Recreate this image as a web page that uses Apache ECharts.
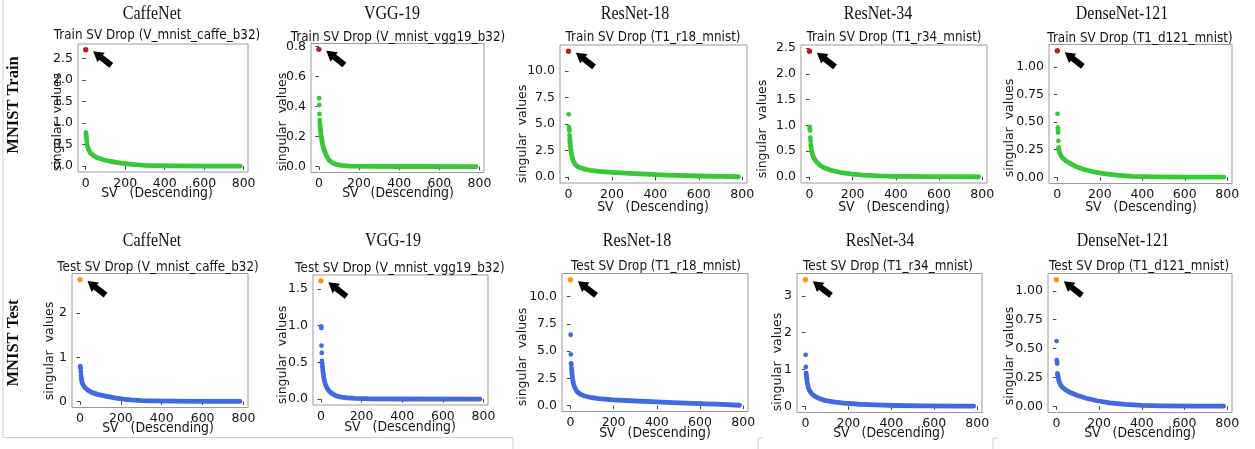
<!DOCTYPE html>
<html>
<head>
<meta charset="utf-8">
<script src="https://cdn.jsdelivr.net/npm/echarts@6/dist/echarts.min.js"></script>
<style>
  html, body { margin: 0; padding: 0; background: #ffffff; }
  #chart { width: 1255px; height: 449px; }
</style>
</head>
<body>
<div id="chart"></div>
<script>
// Singular-value spectra of the learned feature matrices on MNIST (train / test),
// one small panel per network. Index 0 (largest SV) is highlighted and pointed at.

const modelNames = ['CaffeNet', 'VGG-19', 'ResNet-18', 'ResNet-34', 'DenseNet-121'];
const runTags = ['V_mnist_caffe_b32', 'V_mnist_vgg19_b32', 'T1_r18_mnist', 'T1_r34_mnist', 'T1_d121_mnist'];
const rowLabels = ['MNIST Train', 'MNIST Test'];
const xTicks = [0, 200, 400, 600, 800];
const svLastIndex = 783;

// largest singular value of each run
const trainTop = [2.70, 0.78, 11.85, 2.44, 1.145];
const testTop = [2.76, 1.61, 11.55, 3.44, 1.095];

// y tick values of each panel
const yTicksTrain = [
  [0, 0.5, 1, 1.5, 2, 2.5],
  [0, 0.2, 0.4, 0.6, 0.8],
  [0, 2.5, 5, 7.5, 10],
  [0, 0.5, 1, 1.5, 2, 2.5],
  [0, 0.25, 0.5, 0.75, 1]
];
const yTicksTest = [
  [0, 1, 2],
  [0, 0.5, 1, 1.5],
  [0, 2.5, 5, 7.5, 10],
  [0, 1, 2, 3],
  [0, 0.25, 0.5, 0.75, 1]
];

// leading singular values (index, value) that still stand apart
const trainHeadCaffe = [[1, 0.78], [2, 0.74], [3, 0.70], [4, 0.65], [5, 0.59], [6, 0.54]];
const trainHeadVgg = [[1, 0.455], [2, 0.41], [3, 0.35], [4, 0.31], [5, 0.29]];
const trainHeadR18 = [[1, 5.9], [2, 4.7], [3, 4.55], [4, 4.35], [5, 3.9]];
const trainHeadR34 = [[1, 0.97], [2, 0.93], [3, 0.90], [4, 0.76], [5, 0.70]];
const trainHeadD121 = [[1, 0.575], [2, 0.45], [3, 0.43], [4, 0.405], [5, 0.33], [6, 0.27]];

const testHeadCaffe = [[1, 0.80], [2, 0.77], [3, 0.75], [4, 0.67], [5, 0.60]];
const testHeadVgg = [[1, 0.99], [2, 0.97], [3, 0.73], [4, 0.63], [5, 0.52], [6, 0.49]];
const testHeadR18 = [[1, 6.5], [2, 4.7], [3, 3.88], [4, 3.73], [5, 3.42]];
const testHeadR34 = [[1, 1.40], [2, 1.07], [3, 0.91], [4, 0.87], [5, 0.82]];
const testHeadD121 = [[1, 0.565], [2, 0.40], [3, 0.385], [4, 0.37], [5, 0.285]];

// the dense remainder of the spectrum, sampled along the index
const trainTailCaffe = [[7, 0.50], [10, 0.44], [15, 0.38], [25, 0.30], [40, 0.245], [60, 0.195], [90, 0.15], [125, 0.115], [170, 0.08], [210, 0.055], [250, 0.036], [300, 0.022], [360, 0.012], [450, 0.006], [600, 0.003], [783, 0.001]];
const trainTailVgg = [[6, 0.28], [8, 0.25], [10, 0.22], [14, 0.18], [20, 0.14], [28, 0.105], [38, 0.072], [50, 0.045], [65, 0.027], [85, 0.015], [110, 0.008], [150, 0.004], [250, 0.002], [400, 0.001], [783, 0.0]];
const trainTailR18 = [[6, 3.6], [8, 3.1], [10, 2.7], [15, 2.0], [22, 1.5], [30, 1.2], [40, 1.0], [55, 0.85], [75, 0.72], [100, 0.62], [140, 0.52], [200, 0.42], [260, 0.35], [330, 0.27], [420, 0.19], [500, 0.13], [600, 0.08], [700, 0.04], [783, 0.01]];
const trainTailR34 = [[6, 0.63], [8, 0.56], [10, 0.50], [15, 0.42], [22, 0.35], [35, 0.28], [50, 0.22], [70, 0.17], [100, 0.125], [140, 0.088], [190, 0.057], [250, 0.032], [320, 0.016], [400, 0.007], [550, 0.003], [783, 0.001]];
const trainTailD121 = [[7, 0.255], [10, 0.23], [16, 0.2], [25, 0.175], [40, 0.15], [60, 0.125], [90, 0.095], [130, 0.068], [170, 0.05], [220, 0.033], [280, 0.02], [350, 0.009], [450, 0.004], [600, 0.002], [783, 0.001]];

const testTailCaffe = [[6, 0.55], [8, 0.48], [11, 0.42], [16, 0.37], [25, 0.31], [40, 0.25], [60, 0.2], [90, 0.155], [125, 0.12], [170, 0.08], [210, 0.055], [250, 0.035], [300, 0.02], [360, 0.011], [450, 0.006], [600, 0.003], [783, 0.001]];
const testTailVgg = [[7, 0.45], [9, 0.40], [12, 0.33], [16, 0.26], [22, 0.2], [30, 0.15], [40, 0.11], [55, 0.075], [75, 0.045], [100, 0.028], [130, 0.017], [170, 0.01], [250, 0.005], [400, 0.002], [783, 0.001]];
const testTailR18 = [[6, 3.25], [8, 2.8], [10, 2.45], [14, 2.0], [20, 1.65], [30, 1.3], [45, 1.05], [65, 0.88], [90, 0.76], [130, 0.63], [200, 0.52], [300, 0.42], [400, 0.33], [500, 0.25], [600, 0.18], [700, 0.1], [783, 0.03]];
const testTailR34 = [[6, 0.78], [8, 0.68], [10, 0.6], [14, 0.5], [20, 0.42], [30, 0.34], [45, 0.27], [65, 0.21], [90, 0.16], [130, 0.12], [180, 0.085], [250, 0.055], [330, 0.035], [420, 0.02], [550, 0.01], [700, 0.005], [783, 0.002]];
const testTailD121 = [[6, 0.275], [8, 0.26], [12, 0.22], [18, 0.19], [28, 0.165], [45, 0.14], [70, 0.115], [100, 0.093], [140, 0.07], [190, 0.048], [250, 0.03], [320, 0.016], [400, 0.008], [500, 0.004], [650, 0.002], [783, 0.001]];

const trainHeads = [trainHeadCaffe, trainHeadVgg, trainHeadR18, trainHeadR34, trainHeadD121];
const testHeads = [testHeadCaffe, testHeadVgg, testHeadR18, testHeadR34, testHeadD121];
const trainTails = [trainTailCaffe, trainTailVgg, trainTailR18, trainTailR34, trainTailD121];
const testTails = [testTailCaffe, testTailVgg, testTailR18, testTailR34, testTailD121];

// ---- layout (pixels) ----
const gridBoxes = [
  [78, 44, 170, 128], [311, 43.5, 173, 129], [560, 45, 187, 138], [801, 45, 186, 138], [1049, 44.5, 183, 139],
  [72, 273.5, 176, 134], [313, 275, 175, 130], [562, 273.5, 186, 138], [797, 273.5, 185, 139], [1048, 273.5, 184, 139]
];
const modelNamePos = [[152, 14], [392, 14], [635, 14], [878, 14], [1122, 14], [152, 241], [393, 241], [637, 241], [880, 241], [1123, 241]];
const titlePos = [[157, 35], [398, 37], [653, 37], [894, 37], [1140, 38], [158, 267], [400, 268], [656, 266], [888, 266], [1139, 266]];
const xNamePos = [[157, 193.5], [398, 193.5], [653, 207], [894, 207], [1141, 207], [158, 428.5], [400, 427.5], [655, 433.5], [889, 433.5], [1140, 433.5]];
const yNamePos = [[58, 122], [283, 122], [523, 134], [763, 129], [1010, 128], [50, 351], [283, 355], [523, 357], [778, 362], [1010, 356]];
const rowLabelPos = [[14, 105], [14, 343]];

const SANS = '"DejaVu Sans", "Liberation Sans", sans-serif';
const SERIF = '"Liberation Serif", "DejaVu Serif", serif';
const TXT = '#141414';
const TEXT_STRETCH = 1.13;   // glyphs in this figure are slightly taller than wide

const COLORS = {
  train: { body: '#36c836', top: '#b3202a' },
  test: { body: '#4169e1', top: '#ff9419' }
};

// fat black arrow, drawn pointing left and turned up-left
const ARROW_PATH = 'path://M0,6 L10,0 L10,3 L23,3 L23,9 L10,9 L10,12 Z';

function decimalsOf(ticks) {
  let d = 0;
  ticks.forEach(function (t) {
    const s = String(t);
    const p = s.indexOf('.');
    if (p >= 0) d = Math.max(d, s.length - p - 1);
  });
  return d;
}

const grids = [], xAxes = [], yAxes = [], series = [], graphics = [];

const panels = [];
for (let r = 0; r < 2; r++) {
  for (let c = 0; c < 5; c++) {
    panels.push({
      kind: r === 0 ? 'train' : 'test',
      title: (r === 0 ? 'Train' : 'Test') + ' SV Drop (' + runTags[c] + ')',
      model: modelNames[c],
      top: r === 0 ? trainTop[c] : testTop[c],
      head: r === 0 ? trainHeads[c] : testHeads[c],
      tail: r === 0 ? trainTails[c] : testTails[c],
      yTicks: r === 0 ? yTicksTrain[c] : yTicksTest[c]
    });
  }
}

panels.forEach(function (p, i) {
  const b = gridBoxes[i];
  grids.push({
    left: b[0], top: b[1], width: b[2], height: b[3],
    containLabel: false, outerBoundsMode: 'none',
    show: true, backgroundColor: '#ffffff', borderColor: '#9a9a9a', borderWidth: 1
  });

  const xPad = 0.05 * svLastIndex;
  xAxes.push({
    type: 'value', gridIndex: i,
    min: -xPad, max: svLastIndex + xPad,
    axisLine: { show: false },
    splitLine: { show: false },
    axisTick: { show: true, inside: false, length: 3.5, customValues: xTicks, lineStyle: { color: '#444', width: 1 } },
    axisLabel: { show: true, customValues: xTicks, margin: 5, fontSize: 12.5, fontFamily: SANS, color: TXT, formatter: function (v) { return String(v); } }
  });

  let lo = Infinity;
  p.tail.concat(p.head).forEach(function (d) { lo = Math.min(lo, d[1]); });
  const hi = p.top;
  const yPad = 0.05 * (hi - lo);
  const dec = decimalsOf(p.yTicks);
  yAxes.push({
    type: 'value', gridIndex: i,
    min: lo - yPad, max: hi + yPad,
    axisLine: { show: false },
    splitLine: { show: false },
    axisTick: { show: true, inside: false, length: 3.5, customValues: p.yTicks, lineStyle: { color: '#444', width: 1 } },
    axisLabel: { show: true, customValues: p.yTicks, margin: 5, fontSize: 12.5, fontFamily: SANS, color: TXT, formatter: function (v) { return Number(v).toFixed(dec); } }
  });

  const col = COLORS[p.kind];

  series.push({
    type: 'line', xAxisIndex: i, yAxisIndex: i,
    data: p.tail, showSymbol: false, silent: true, animation: false,
    lineStyle: { color: col.body, width: 4.8, cap: 'round', join: 'round' },
    z: 2
  });
  series.push({
    type: 'scatter', xAxisIndex: i, yAxisIndex: i,
    data: p.head, symbolSize: 4.8, silent: true, animation: false,
    itemStyle: { color: col.body, opacity: 1 },
    z: 3
  });
  series.push({
    type: 'scatter', xAxisIndex: i, yAxisIndex: i,
    data: [[0, p.top]], symbolSize: 5.4, silent: true, animation: false,
    itemStyle: { color: col.top, opacity: 1 },
    z: 4,
    markPoint: {
      silent: true, animation: false,
      symbol: ARROW_PATH,
      symbolSize: [23, 12],
      symbolRotate: -38,
      symbolOffset: [16.5, 8.5],
      itemStyle: { color: '#000000' },
      label: { show: false },
      data: [{ coord: [0, p.top] }]
    }
  });

  graphics.push({
    type: 'text', x: modelNamePos[i][0], y: modelNamePos[i][1], scaleY: TEXT_STRETCH, silent: true,
    style: { text: p.model, font: '16px ' + SERIF, fill: '#111', align: 'center', verticalAlign: 'middle' }
  });
  graphics.push({
    type: 'text', x: titlePos[i][0], y: titlePos[i][1], scaleY: TEXT_STRETCH, silent: true,
    style: { text: p.title, font: '12px ' + SANS, fill: TXT, align: 'center', verticalAlign: 'middle' }
  });
  graphics.push({
    type: 'text', x: xNamePos[i][0], y: xNamePos[i][1], scaleY: TEXT_STRETCH, silent: true,
    style: { text: 'SV   (Descending)', font: '12.5px ' + SANS, fill: TXT, align: 'center', verticalAlign: 'middle' }
  });
  graphics.push({
    type: 'text', x: yNamePos[i][0], y: yNamePos[i][1], rotation: Math.PI / 2, silent: true,
    style: { text: 'singular  values', font: '12.5px ' + SANS, fill: TXT, align: 'center', verticalAlign: 'middle' }
  });
});

rowLabels.forEach(function (t, r) {
  graphics.push({
    type: 'text', x: rowLabelPos[r][0], y: rowLabelPos[r][1], rotation: Math.PI / 2, silent: true,
    style: { text: t, font: 'bold 16.5px ' + SERIF, fill: '#111', align: 'center', verticalAlign: 'middle' }
  });
});

// page frame lines around the figure
const frameLines = [
  [3, 0, 3, 437.5], [3, 437.5, 513, 437.5], [513, 437.5, 513, 449],
  [758, 438, 758, 449], [758, 438, 763, 438], [993, 438, 993, 449], [993, 438, 998, 438]
];
frameLines.forEach(function (l) {
  graphics.push({
    type: 'line', silent: true,
    shape: { x1: l[0], y1: l[1], x2: l[2], y2: l[3] },
    style: { stroke: '#cfcfcf', lineWidth: 1 }
  });
});

const chart = echarts.init(document.getElementById('chart'), null, { renderer: 'canvas' });
chart.setOption({
  backgroundColor: '#ffffff',
  animation: false,
  textStyle: { fontFamily: SANS },
  grid: grids,
  xAxis: xAxes,
  yAxis: yAxes,
  series: series,
  graphic: { elements: graphics }
});
</script>
</body>
</html>
